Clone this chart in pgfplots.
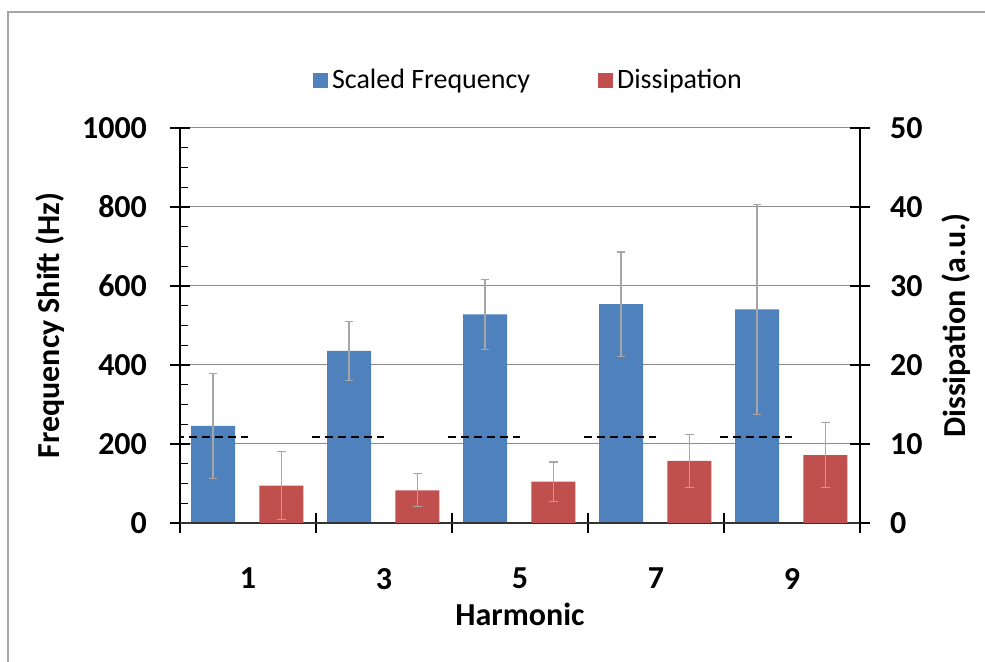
\documentclass[border=0pt]{standalone}
\usepackage{pgfplots}
\pgfplotsset{compat=1.18}
\usepackage{pgfplotstable}
\usepackage{fontspec}
\setmainfont{Carlito}

\definecolor{freqblue}{HTML}{4F81BD}
\definecolor{dissred}{HTML}{C0504D}
\definecolor{errgray}{HTML}{A6A6A6}
\definecolor{gridgray}{HTML}{8C8C8C}

\newcommand{\labfont}{\bfseries\fontsize{16}{19}\selectfont}

% harmonic index (0..4 -> 1,3,5,7,9), mean and error
\pgfplotstableread{
x freq ferr
0 246 133
1 436 75
2 528 89
3 554 132
4 541 266
}\freqdata
\pgfplotstableread{
x diss derr
0 4.72 4.3
1 4.14 2.1
2 5.23 2.5
3 7.85 3.4
4 8.60 4.1
}\dissdata

\pgfplotsset{
  base/.style={
    scale only axis, width=340pt, height=197.5pt,
    at={(0,0)}, anchor=south west,
    xmin=-0.5, xmax=4.5,
    tick align=center, major tick length=10pt,
    tick style={black, line width=0.6pt},
    ticklabel style={font=\bfseries\fontsize{16}{19}\selectfont},
    /pgf/number format/assume math mode=true,
    /pgf/number format/1000 sep={},
  },
  errstyle/.style={
    error bars/.cd, y dir=both, y explicit,
    error bar style={errgray, line width=0.6pt},
    error mark options={draw=errgray, rotate=90, mark size=2.2pt, line width=0.6pt},
  },
}

\begin{document}
\begin{tikzpicture}
\begin{axis}[base,
  axis x line*=bottom, axis y line*=left,
  x axis line style={draw=none},
  y axis line style={black, line width=0.75pt},
  ymin=0, ymax=1000, ytick={0,200,...,1000},
  minor y tick num=3, minor tick length=4pt,
  minor y tick style={xshift=2pt},
  ymajorgrids, grid style={gridgray, line width=0.5pt},
  yticklabel style={xshift=-8pt},
  xtick={0,...,4}, xticklabels={1,3,5,7,9},
  major x tick style={draw=none},
  xticklabel style={yshift=-14pt},
  xlabel={Harmonic},
  ylabel={Frequency Shift (Hz)},
  every axis x label/.style={at={(axis description cs:0.5,-0.232)}, anchor=center, font=\labfont},
  every axis y label/.style={at={(axis description cs:-0.191,0.5)}, rotate=90, anchor=center, font=\labfont},
]
\addplot[ybar, bar width=22pt, bar shift=0pt, fill=freqblue, draw=none, errstyle]
  table[x expr=\thisrow{x}-0.257, y=freq, y error=ferr] {\freqdata};
% reference level per harmonic
\addplot[sharp plot, black, line width=0.8pt, dash pattern=on 4pt off 2.5pt, unbounded coords=jump]
  coordinates {(-0.53,218) (0,218) (nan,nan)
               (0.47,218) (1,218) (nan,nan)
               (1.47,218) (2,218) (nan,nan)
               (2.47,218) (3,218) (nan,nan)
               (3.47,218) (4,218)};
\end{axis}

\begin{axis}[base,
  axis x line*=bottom, axis y line*=right,
  x axis line style={black!80, line width=0.75pt},
  y axis line style={black, line width=0.75pt},
  ymin=0, ymax=50, ytick={0,10,...,50},
  yticklabel style={xshift=6.5pt},
  xtick={-0.5,0.5,...,4.5}, xticklabels={},
  ylabel={Dissipation (a.u.)},
  every axis y label/.style={at={(axis description cs:1.141,0.5)}, rotate=90, anchor=center, font=\labfont},
  legend style={at={(axis description cs:0.514,1.1215)}, anchor=center, draw=none,
    font=\fontsize{14}{17}\selectfont, legend columns=2,
    /tikz/every even column/.append style={column sep=32pt},
    legend cell align=left},
  legend image code/.code={\fill[#1] (0pt,-3.75pt) rectangle (7.5pt,3.75pt);},
]
\addlegendimage{fill=freqblue, draw=none}
\addlegendentry{Scaled Frequency}
\addplot[ybar, bar width=22pt, bar shift=0pt, fill=dissred, draw=none, errstyle]
  table[x expr=\thisrow{x}+0.246, y=diss, y error=derr] {\dissdata};
\addlegendentry{Dissipation}
\end{axis}

\draw[gray!70, line width=0.6pt] (-86pt,-80pt) -- (-86pt,255.5pt) -- (410pt,255.5pt);
\pgfresetboundingbox
\useasboundingbox (-90pt,-69.5pt) rectangle (402.5pt,261.5pt);
\end{tikzpicture}
\end{document}
